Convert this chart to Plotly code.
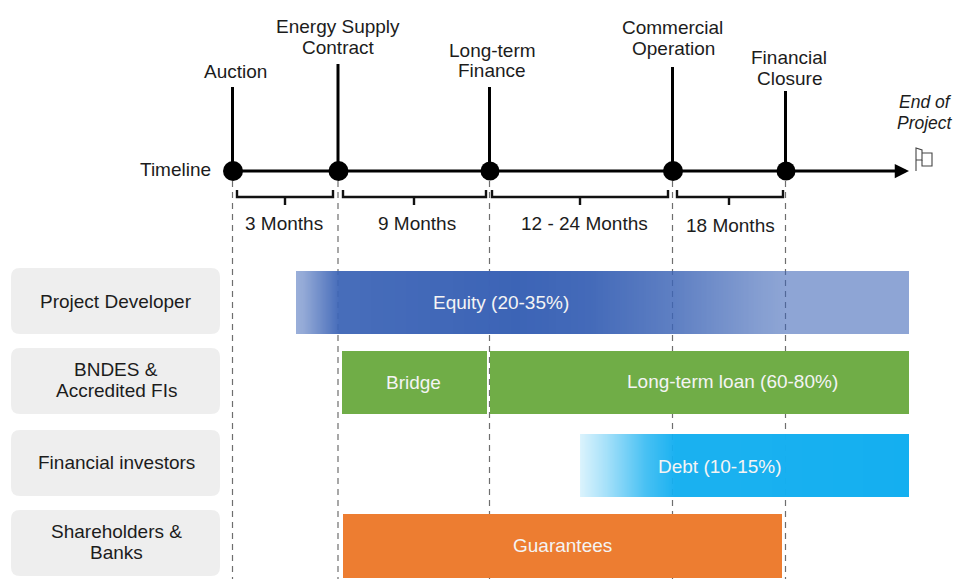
import numpy as np
import plotly.graph_objects as go

W, H = 957, 581
FONT = "Liberation Sans"
INK = "#1c1c1c"
TEXT_SIZE = 19

# Milestones on the timeline: name lines, position, top of the stem
milestone_x = [233, 338.5, 490, 673, 786]
milestone_top = [87, 64, 87, 67, 91]
milestone_size = [20, 20, 19, 20, 19]
milestone_labels = [
    (235, 71, "Auction"),
    (338, 26, "Energy Supply"),
    (338, 47, "Contract"),
    (492, 50, "Long-term"),
    (492, 70, "Finance"),
    (672, 27, "Commercial"),
    (673, 48, "Operation"),
    (789, 57, "Financial"),
    (789, 78, "Closure"),
]

# Phase durations and their brackets
phase_labels = ["3 Months", "9 Months", "12 - 24 Months", "18 Months"]
phase_left = [237, 343, 492, 677]
phase_right = [333, 486, 668, 783]
phase_mid = [285, 414, 580, 729]
phase_text_x = [283.5, 417, 584, 730]
phase_text_y = [223, 223, 223, 225]

# Actors column
actor_lines = [
    (116, 301, "Project Developer"),
    (116, 369, "BNDES &"),
    (116, 390, "Accredited FIs"),
    (116, 462, "Financial investors"),
    (116, 531, "Shareholders &"),
    (116, 552, "Banks"),
]
actor_top = [268, 348, 430, 510]
actor_bottom = [334, 414, 496, 576]

# Financing instruments with flat fills
flat_names = ["Bridge", "Long-term loan (60-80%)", "Guarantees"]
flat_start = [342, 490, 343]
flat_end = [487, 909, 782]
flat_top = [351, 351, 514]
flat_bottom = [414, 414, 578]
flat_colors = ["#70ad47", "#70ad47", "#ed7d31"]
flat_text_x = [413.5, 732, 562.5]
flat_text_y = [382, 381, 545]

# Financing instruments that fade in or out along the timeline
equity_stops = [
    (0.0, "rgba(60,100,182,0.52)"),
    (0.012, "rgba(60,100,182,0.55)"),
    (0.07, "rgba(60,100,182,0.94)"),
    (0.36, "rgba(60,100,182,1)"),
    (0.48, "rgba(60,100,182,0.96)"),
    (0.62, "rgba(60,100,182,0.82)"),
    (0.76, "rgba(60,100,182,0.62)"),
    (0.80, "rgba(60,100,182,0.58)"),
    (1.0, "rgba(60,100,182,0.58)"),
]
debt_stops = [
    (0.0, "rgba(20,175,240,0.15)"),
    (0.08, "rgba(20,175,240,0.38)"),
    (0.2, "rgba(20,175,240,0.78)"),
    (0.29, "rgba(20,175,240,0.97)"),
    (1.0, "rgba(20,175,240,1)"),
]
fade_bars = [
    ("Equity (20-35%)", 296, 909, 271, 334, equity_stops, 501, 302),
    ("Debt (10-15%)", 580, 909, 434, 497, debt_stops, 719.5, 466),
]

# End-of-project flag outline
flag_x = [916, 916, 922, 922, 916, None, 922, 932, 932, 922, 922]
flag_y = [171, 148, 150, 160, 160, None, 153, 153, 166, 166, 160]

fig = go.Figure()


def rounded_rect(x0, x1, y0, y1, r):
    return (
        f"M{x0 + r},{y0} L{x1 - r},{y0} Q{x1},{y0} {x1},{y0 + r} "
        f"L{x1},{y1 - r} Q{x1},{y1} {x1 - r},{y1} L{x0 + r},{y1} "
        f"Q{x0},{y1} {x0},{y1 - r} L{x0},{y0 + r} Q{x0},{y0} {x0 + r},{y0} Z"
    )


shapes = [
    dict(type="path", path=rounded_rect(11, 220, t, b, 9),
         fillcolor="#eeeeee", line_width=0, layer="below")
    for t, b in zip(actor_top, actor_bottom)
]
# Dashed guides dropping from each milestone sit under the bars
shapes += [
    dict(type="line", x0=x - 0.5, x1=x - 0.5, y0=181, y1=579, layer="below",
         line=dict(color="#6e6e6e", width=1.2, dash="6px,5px"))
    for x in milestone_x
]
fig.update_layout(shapes=shapes)

# Flat bars
for s, e, t, b, c in zip(flat_start, flat_end, flat_top, flat_bottom, flat_colors):
    fig.add_trace(go.Bar(
        x=[e - s], base=[s], y=[(t + b) / 2], width=[b - t], orientation="h",
        marker=dict(color=c, line_width=0), hoverinfo="skip",
    ))

# Fading bars as one-row colour ramps
for name, s, e, t, b, stops, _, _ in fade_bars:
    edges = np.arange(s, e + 1)
    fig.add_trace(go.Heatmap(
        x=edges, y=[t, b], z=[(edges[:-1] + 0.5).tolist()],
        zmin=s, zmax=e, colorscale=[list(p) for p in stops],
        showscale=False, hoverinfo="skip", name=name,
    ))

# Timeline axis, stems and milestone dots
fig.add_trace(go.Scatter(
    x=[milestone_x[0], 900], y=[171, 171], mode="lines",
    line=dict(color="black", width=3), hoverinfo="skip",
))
for x, top in zip(milestone_x, milestone_top):
    fig.add_trace(go.Scatter(
        x=[x - 0.5, x - 0.5], y=[top, 171], mode="lines",
        line=dict(color="black", width=3), hoverinfo="skip",
    ))
fig.add_trace(go.Scatter(
    x=milestone_x, y=[171] * len(milestone_x), mode="markers",
    marker=dict(color="black", size=milestone_size, opacity=1, line_width=0),
    hoverinfo="skip",
))
fig.add_annotation(
    x=909, y=171, ax=896, ay=171, xref="x", yref="y", axref="x", ayref="y",
    showarrow=True, arrowhead=2, arrowsize=0.95, arrowwidth=3, arrowcolor="black", text="",
)

# Phase brackets
for l, r, m in zip(phase_left, phase_right, phase_mid):
    fig.add_trace(go.Scatter(
        x=[l, l, r, r, None, m, m], y=[190, 197, 197, 190, None, 197, 205],
        mode="lines", line=dict(color="#111111", width=2.4), hoverinfo="skip",
    ))

# Flag
fig.add_trace(go.Scatter(
    x=flag_x, y=flag_y, mode="lines",
    line=dict(color="#444444", width=1.1), hoverinfo="skip",
))


def label(x, y, text, color=INK, size=TEXT_SIZE, italic=False):
    fig.add_annotation(
        x=x, y=y, xref="x", yref="y", text=f"<i>{text}</i>" if italic else text,
        showarrow=False, xanchor="center", yanchor="middle",
        font=dict(family=FONT, size=size, color=color),
    )


for x, y, t in milestone_labels:
    label(x, y, t)
label(175, 169, "Timeline")
label(925, 102, "End of", size=17.5, italic=True)
label(925, 123, "Project", size=17.5, italic=True)
for x, y, t in zip(phase_text_x, phase_text_y, phase_labels):
    label(x, y, t)
for x, y, t in actor_lines:
    label(x, y, t)
for x, y, t in zip(flat_text_x, flat_text_y, flat_names):
    label(x, y, t, color="#f4f4f4")
for name, _, _, _, _, _, tx, ty in fade_bars:
    label(tx, ty, name, color="#f4f4f4")

axis = dict(visible=False, showgrid=False, zeroline=False, fixedrange=True)
fig.update_layout(
    width=W, height=H, margin=dict(l=0, r=0, t=0, b=0),
    paper_bgcolor="white", plot_bgcolor="white", showlegend=False,
    barmode="overlay",
    xaxis=dict(range=[0, W], **axis),
    yaxis=dict(range=[H, 0], **axis),
)

fig.write_html("out.html", config=dict(displayModeBar=False))
